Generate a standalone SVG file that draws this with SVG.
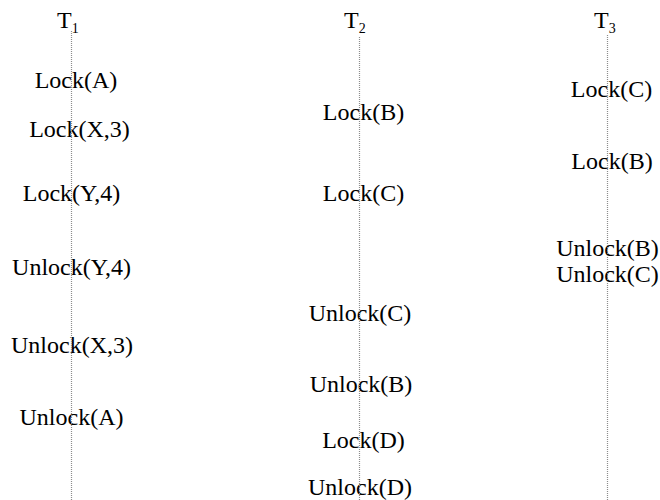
<svg xmlns="http://www.w3.org/2000/svg" width="660" height="500" viewBox="0 0 660 500">
  <style>
    .op { text-anchor: middle; }
    .life { stroke: #8c8c8c; stroke-width: 1.2; stroke-dasharray: 1 1; fill: none; }
  </style>
  <rect width="660" height="500" fill="#fff"/>

  <g font-family="'Liberation Serif', 'Times New Roman', Times, serif" font-size="24" fill="#000">
    <!-- Transaction T1 -->
    <g id="t1">
      <text x="57" y="28">T<tspan font-size="14" dy="5">1</tspan></text>
      <text class="op" x="76" y="88">Lock(A)</text>
      <text class="op" x="79.5" y="137">Lock(X,3)</text>
      <text class="op" x="71.5" y="201">Lock(Y,4)</text>
      <text class="op" x="71.5" y="275">Unlock(Y,4)</text>
      <text class="op" x="72" y="353">Unlock(X,3)</text>
      <text class="op" x="71.5" y="425">Unlock(A)</text>
    </g>

    <!-- Transaction T2 -->
    <g id="t2">
      <text x="344" y="28">T<tspan font-size="14" dy="5">2</tspan></text>
      <text class="op" x="363.5" y="120">Lock(B)</text>
      <text class="op" x="363.5" y="201">Lock(C)</text>
      <text class="op" x="360" y="321">Unlock(C)</text>
      <text class="op" x="361" y="392">Unlock(B)</text>
      <text class="op" x="363.5" y="448">Lock(D)</text>
      <text class="op" x="360" y="495">Unlock(D)</text>
    </g>

    <!-- Transaction T3 -->
    <g id="t3">
      <text x="594" y="28">T<tspan font-size="14" dy="5">3</tspan></text>
      <text class="op" x="611.5" y="97">Lock(C)</text>
      <text class="op" x="612" y="169">Lock(B)</text>
      <text class="op" x="607.5" y="256">Unlock(B)</text>
      <text class="op" x="607.5" y="282">Unlock(C)</text>
    </g>
  </g>

  <!-- Dotted lifelines -->
  <g id="lifelines">
    <line class="life" x1="71.5" y1="31" x2="71.5" y2="500"/>
    <line class="life" x1="359.5" y1="37" x2="359.5" y2="500"/>
    <line class="life" x1="607.5" y1="35" x2="607.5" y2="500"/>
  </g>
</svg>
